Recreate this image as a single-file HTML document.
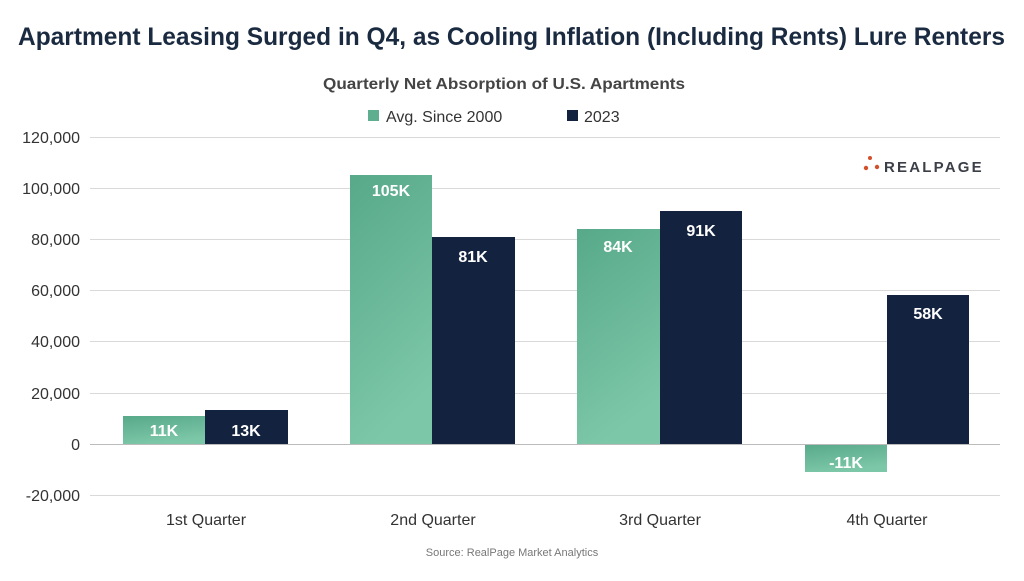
<!DOCTYPE html>
<html><head><meta charset="utf-8"><style>
body{margin:0;background:#fff;}
svg text{font-family:"Liberation Sans",sans-serif;}
</style></head><body>
<svg width="1024" height="576" viewBox="0 0 1024 576" xmlns="http://www.w3.org/2000/svg">
<defs>
<linearGradient id="g" x1="0" y1="0" x2="0.3" y2="1">
<stop offset="0" stop-color="#57a98a"/><stop offset="1" stop-color="#7cc7a8"/></linearGradient>
</defs>
<rect width="1024" height="576" fill="#fff"/>
<text x="18" y="45" font-size="25" font-weight="bold" fill="#1a2a40" textLength="987" lengthAdjust="spacingAndGlyphs">Apartment Leasing Surged in Q4, as Cooling Inflation (Including Rents) Lure Renters</text>
<text x="323" y="89" font-size="16" font-weight="bold" fill="#444" textLength="362" lengthAdjust="spacingAndGlyphs">Quarterly Net Absorption of U.S. Apartments</text>
<rect x="368" y="110" width="11" height="11" fill="#5fae8f"/>
<text x="386" y="122" font-size="16" fill="#333">Avg. Since 2000</text>
<rect x="567" y="110" width="11" height="11" fill="#13233f"/>
<text x="584" y="122" font-size="16" fill="#333">2023</text>
<g stroke="#d9d9d9" stroke-width="1">
<line x1="90" x2="1000" y1="137.5" y2="137.5"/><line x1="90" x2="1000" y1="188.5" y2="188.5"/>
<line x1="90" x2="1000" y1="239.5" y2="239.5"/><line x1="90" x2="1000" y1="290.5" y2="290.5"/>
<line x1="90" x2="1000" y1="341.5" y2="341.5"/><line x1="90" x2="1000" y1="393.5" y2="393.5"/>
<line x1="90" x2="1000" y1="495.5" y2="495.5"/>
</g>
<g font-size="16" fill="#333" text-anchor="end">
<text x="80" y="143">120,000</text><text x="80" y="194">100,000</text><text x="80" y="245">80,000</text>
<text x="80" y="296">60,000</text><text x="80" y="347">40,000</text><text x="80" y="399">20,000</text>
<text x="80" y="450">0</text><text x="80" y="501">-20,000</text>
</g>
<rect x="123" y="416" width="82" height="28" fill="url(#g)"/>
<rect x="205" y="410" width="83" height="34" fill="#13233f"/>
<rect x="350" y="175" width="82" height="269" fill="url(#g)"/>
<rect x="432" y="237" width="83" height="207" fill="#13233f"/>
<rect x="577" y="229" width="83" height="215" fill="url(#g)"/>
<rect x="660" y="211" width="82" height="233" fill="#13233f"/>
<rect x="805" y="444" width="82" height="28" fill="url(#g)"/>
<rect x="887" y="295" width="82" height="149" fill="#13233f"/>
<line x1="90" x2="1000" y1="444.5" y2="444.5" stroke="#bbb"/>
<g font-size="16" font-weight="bold" fill="#fff" text-anchor="middle">
<text x="164" y="436">11K</text><text x="246" y="436">13K</text>
<text x="391" y="196">105K</text><text x="473" y="262">81K</text>
<text x="618" y="252">84K</text><text x="701" y="236">91K</text>
<text x="846" y="468">-11K</text><text x="928" y="319">58K</text>
</g>
<g font-size="16" fill="#333" text-anchor="middle">
<text x="206" y="525">1st Quarter</text><text x="433" y="525">2nd Quarter</text>
<text x="660" y="525">3rd Quarter</text><text x="887" y="525">4th Quarter</text>
</g>
<text x="512" y="556" text-anchor="middle" font-size="11" fill="#777">Source: RealPage Market Analytics</text>
<g fill="#d2502a"><circle cx="870" cy="158" r="2"/><circle cx="866" cy="168" r="2.2"/><circle cx="877" cy="167" r="2.2"/></g>
<text x="884" y="172" font-size="15" font-weight="bold" fill="#3b3f48" letter-spacing="2.2">REALPAGE</text>
</svg>
</body></html>
